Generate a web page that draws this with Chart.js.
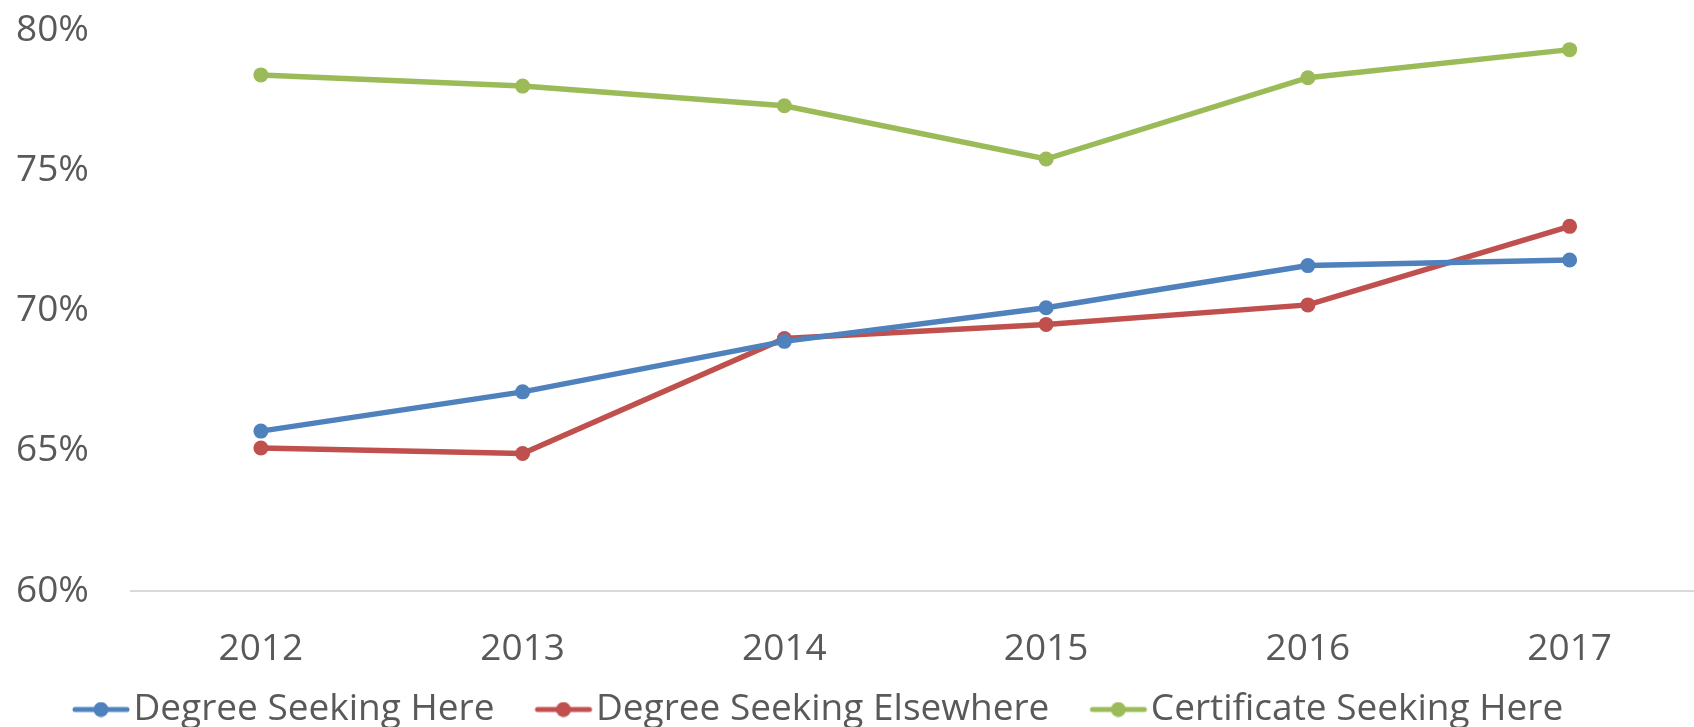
<!DOCTYPE html>
<html>
<head>
<meta charset="utf-8">
<script src="https://cdn.jsdelivr.net/npm/chart.js@4.4.0/dist/chart.umd.min.js"></script>
<style>
  html, body { margin: 0; padding: 0; background: #fff; overflow: hidden; }
  #wrap { width: 1708px; height: 738px; position: relative; }
</style>
</head>
<body>
<div id="wrap"><canvas id="chart"></canvas></div>
<script>
// values (percent)
const years = ['2012', '2013', '2014', '2015', '2016', '2017'];
const degreeHere = [65.7, 67.1, 68.9, 70.1, 71.6, 71.8];
const degreeElsewhere = [65.1, 64.9, 69.0, 69.5, 70.2, 73.0];
const certificateHere = [78.4, 78.0, 77.3, 75.4, 78.3, 79.3];
const seriesNames = ['Degree Seeking Here', 'Degree Seeking Elsewhere', 'Certificate Seeking Here'];
const seriesColors = ['#4f81bd', '#c0504d', '#9bbb59'];

const textColor = '#595959';
const font = { family: '"Open Sans", sans-serif', size: 37 };

// line-with-dot marker for the legend; drawn on the right side of a wide
// image so the gap between legend entries comes out like Excel's
function legendMark(color) {
    const c = document.createElement('canvas');
    c.width = 112; c.height = 16;
    const g = c.getContext('2d');
    g.strokeStyle = color;
    g.lineWidth = 5;
    g.lineCap = 'round';
    g.beginPath(); g.moveTo(56, 8); g.lineTo(108, 8); g.stroke();
    g.fillStyle = color;
    g.beginPath(); g.arc(82, 8, 7.5, 0, Math.PI * 2); g.fill();
    return c;
}

const allValues = [degreeHere, degreeElsewhere, certificateHere];
const marks = seriesColors.map(legendMark);

new Chart(document.getElementById('chart'), {
    type: 'line',
    data: {
        labels: years,
        datasets: allValues.map((vals, i) => ({
            label: seriesNames[i],
            data: vals,
            borderColor: seriesColors[i],
            backgroundColor: seriesColors[i],
            borderWidth: 5.5,
            tension: 0,
            pointRadius: 7.5,
            pointBorderWidth: 0,
            pointBackgroundColor: seriesColors[i]
        }))
    },
    options: {
        responsive: true,
        maintainAspectRatio: false,
        animation: false,
        layout: { padding: { top: 30, left: 32, right: 0, bottom: 0 } },
        plugins: {
            tooltip: { enabled: false },
            legend: {
                position: 'bottom',
                align: 'start',
                labels: {
                    usePointStyle: true,
                    pointStyleWidth: 80,
                    padding: 3,
                    color: textColor,
                    font: font,
                    generateLabels: chart => chart.data.datasets.map((ds, i) => ({
                        text: ds.label,
                        fillStyle: ds.borderColor,
                        strokeStyle: ds.borderColor,
                        lineWidth: 0,
                        pointStyle: marks[i],
                        fontColor: textColor,
                        hidden: false,
                        datasetIndex: i
                    }))
                }
            }
        },
        scales: {
            x: {
                offset: true,
                grid: { display: false },
                border: { display: false },
                ticks: { color: textColor, font: font, padding: 28 },
                afterFit: s => { s.height = 97; }
            },
            y: {
                min: 60,
                max: 80,
                ticks: {
                    stepSize: 5,
                    color: textColor,
                    font: font,
                    mirror: true,
                    crossAlign: 'near',
                    padding: -114,
                    callback: v => v + '%'
                },
                grid: {
                    drawTicks: false,
                    lineWidth: 2,
                    color: ctx => ctx.tick && ctx.tick.value === 60 ? '#d9d9d9' : 'transparent'
                },
                border: { display: false },
                afterFit: s => { s.width = 98; }
            }
        }
    }
});
</script>
</body>
</html>
